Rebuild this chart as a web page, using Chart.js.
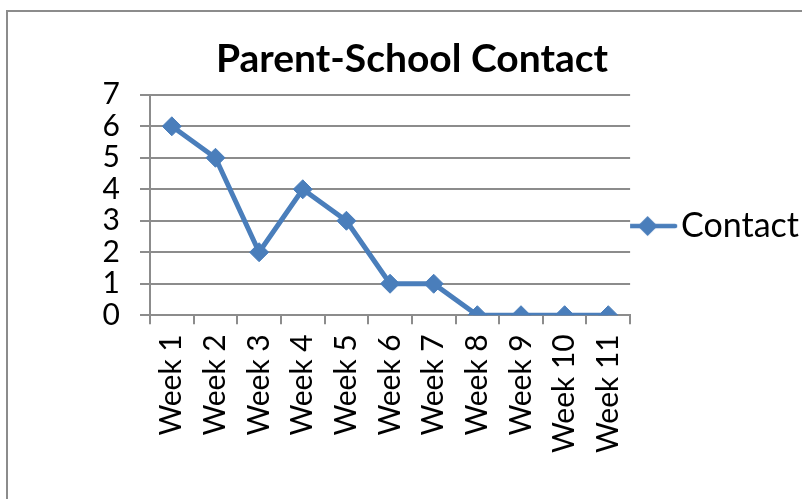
<!DOCTYPE html>
<html>
<head>
<meta charset="utf-8">
<script src="https://cdn.jsdelivr.net/npm/chart.js@4/dist/chart.umd.min.js"></script>
<style>
  html, body { margin: 0; padding: 0; background: #fff; overflow: hidden; }
  #wrap { position: relative; width: 802px; height: 499px; overflow: hidden; }
  #frame { position: absolute; left: 6px; top: 10px; width: 900px; height: 600px; border: 2px solid #8c8c8c; }
  #cv { position: absolute; left: 0; top: 0; }
</style>
</head>
<body>
<div id="wrap">
  <div id="frame"></div>
  <canvas id="cv" width="824" height="499" style="width:824px;height:499px"></canvas>
</div>
<script>
// chart data
const weeks = ["Week 1", "Week 2", "Week 3", "Week 4", "Week 5", "Week 6",
  "Week 7", "Week 8", "Week 9", "Week 10", "Week 11"];
const contacts = [6, 5, 2, 4, 3, 1, 1, 0, 0, 0, 0];
const seriesName = "Contact";
const yMin = 0;
const yMax = 7;

const blue = "#4a7ebb";
const gridGray = "#8c8c8c";

Chart.defaults.font.family = "Lato, 'Open Sans', sans-serif";
Chart.defaults.color = "#000";

// legend marker: short line with a diamond in the middle
function makeLegendMarker() {
  const c = document.createElement("canvas");
  c.width = 66;
  c.height = 24;
  const g = c.getContext("2d");
  g.strokeStyle = blue;
  g.lineWidth = 4.5;
  g.lineCap = "round";
  g.beginPath();
  g.moveTo(6, 12);
  g.lineTo(61, 12);
  g.stroke();
  g.fillStyle = blue;
  g.beginPath();
  g.moveTo(33.5, 2);
  g.lineTo(43.5, 12);
  g.lineTo(33.5, 22);
  g.lineTo(23.5, 12);
  g.closePath();
  g.fill();
  return c;
}

// nudge the legend down a little, like the original
const legendShift = {
  id: "legendShift",
  afterLayout(chart) {
    if (chart.legend) {
      chart.legend.top += 21;
      chart.legend.bottom += 21;
    }
  }
};

const ctx = document.getElementById("cv").getContext("2d");
const chart = new Chart(ctx, {
  type: "line",
  data: {
    labels: weeks,
    datasets: [{
      label: seriesName,
      data: contacts,
      borderColor: blue,
      backgroundColor: blue,
      borderWidth: 5,
      pointStyle: "rectRot",
      pointRadius: 9.5,
      pointHoverRadius: 9.5,
      pointBackgroundColor: blue,
      pointBorderColor: blue,
      pointBorderWidth: 1,
      tension: 0
    }]
  },
  options: {
    responsive: false,
    animation: false,
    layout: { padding: { left: 15, right: 15, top: 10, bottom: 36 } },
    plugins: {
      title: {
        display: true,
        text: "Parent-School Contact",
        font: { size: 39, weight: "bold" },
        color: "#000",
        padding: { top: 26, bottom: 12 }
      },
      legend: {
        position: "right",
        fullSize: false,
        labels: {
          usePointStyle: true,
          pointStyle: makeLegendMarker(),
          pointStyleWidth: 34,
          padding: 0,
          font: { size: 34 },
          color: "#000"
        }
      },
      tooltip: { enabled: false }
    },
    scales: {
      x: {
        offset: true,
        grid: {
          offset: true,
          drawOnChartArea: false,
          drawTicks: true,
          tickLength: 9,
          color: gridGray,
          lineWidth: 2
        },
        border: { display: true, color: gridGray, width: 2 },
        ticks: {
          autoSkip: false,
          minRotation: 90,
          maxRotation: 90,
          padding: 10,
          font: { size: 30 }
        }
      },
      y: {
        min: yMin,
        max: yMax,
        afterFit(scale) { scale.width = 135; },
        ticks: { stepSize: 1, autoSkip: false, padding: 20, font: { size: 30 } },
        grid: {
          color: gridGray,
          lineWidth: 2,
          drawTicks: true,
          tickLength: 10
        },
        border: { display: true, color: gridGray, width: 2 }
      }
    }
  },
  plugins: [legendShift]
});
</script>
</body>
</html>
